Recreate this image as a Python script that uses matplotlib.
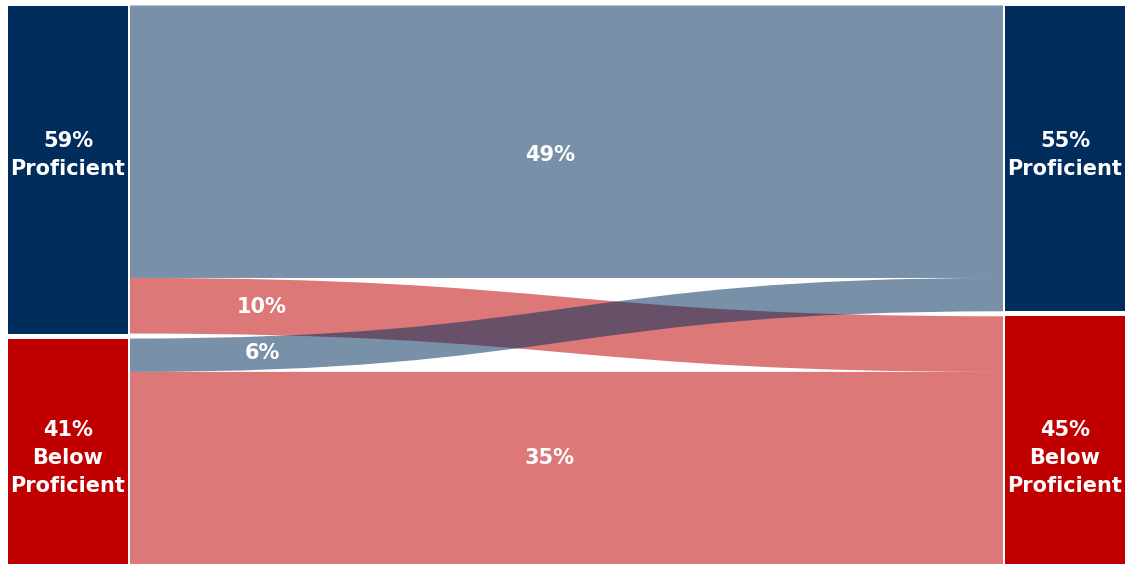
import numpy as np
import matplotlib
matplotlib.use("Agg")
import matplotlib.pyplot as plt
from matplotlib.path import Path
from matplotlib.patches import PathPatch, Rectangle

# Node groups (share of students) in the earlier and later year
left_values = [59, 41]
left_labels = ["59%\nProficient", "41%\nBelow\nProficient"]
right_values = [55, 45]
right_labels = ["55%\nProficient", "45%\nBelow\nProficient"]

# Flows between groups: source index, target index, share
flow_source = [0, 0, 1, 1]
flow_target = [0, 1, 0, 1]
flow_values = [49, 10, 6, 35]
flow_labels = ["49%", "10%", "6%", "35%"]

node_colors = ["#002D5C", "#C00000"]
FLOW_ALPHA = 0.53

# Layout in pixel units
W, H = 1128, 564
TOP, GAP, SCALE = 5.5, 5.0, 5.56
NODE_W = 120
LEFT_X, RIGHT_X = 8, 1005
FLOW_X0, FLOW_X1 = LEFT_X + NODE_W + 2, RIGHT_X - 2

fig = plt.figure(figsize=(W / 100, H / 100), dpi=100)
ax = fig.add_axes([0, 0, 1, 1])
ax.set_xlim(0, W)
ax.set_ylim(H, 0)
ax.axis("off")


def node_spans(values):
    spans, y = [], TOP
    for v in values:
        spans.append((y, y + v * SCALE))
        y += v * SCALE + GAP
    return spans


left_spans = node_spans(left_values)
right_spans = node_spans(right_values)

# Stack flows inside each node: ordering follows the flow list
left_cursor = [s[0] for s in left_spans]
right_cursor = [s[0] for s in right_spans]
flow_geo = []
for s, t, v in zip(flow_source, flow_target, flow_values):
    h = v * SCALE
    ya = left_cursor[s]
    yb = right_cursor[t]
    left_cursor[s] += h
    right_cursor[t] += h
    flow_geo.append((ya, yb, h))


def band_path(ya, yb, h):
    xm = (FLOW_X0 + FLOW_X1) / 2
    verts = [
        (FLOW_X0, ya),
        (xm, ya), (xm, yb), (FLOW_X1, yb),
        (FLOW_X1, yb + h),
        (xm, yb + h), (xm, ya + h), (FLOW_X0, ya + h),
        (FLOW_X0, ya),
    ]
    codes = [Path.MOVETO,
             Path.CURVE4, Path.CURVE4, Path.CURVE4,
             Path.LINETO,
             Path.CURVE4, Path.CURVE4, Path.CURVE4,
             Path.CLOSEPOLY]
    return Path(verts, codes)


def band_center_at(x, ya, yb, h):
    xm = (FLOW_X0 + FLOW_X1) / 2
    t = np.linspace(0, 1, 2001)
    bx = ((1 - t) ** 3 * FLOW_X0 + 3 * (1 - t) ** 2 * t * xm
          + 3 * (1 - t) * t ** 2 * xm + t ** 3 * FLOW_X1)
    by = ((1 - t) ** 3 * ya + 3 * (1 - t) ** 2 * t * ya
          + 3 * (1 - t) * t ** 2 * yb + t ** 3 * yb)
    return np.interp(x, bx, by) + h / 2


# Flows take the colour of the group they end in; red ones are drawn
# first so the blue ones sit on top where they cross
order = sorted(range(len(flow_values)), key=lambda i: -flow_target[i])
for i in order:
    ya, yb, h = flow_geo[i]
    ax.add_patch(PathPatch(band_path(ya, yb, h),
                           facecolor=node_colors[flow_target[i]],
                           alpha=FLOW_ALPHA, edgecolor="none", lw=0))

# Nodes
for (y0, y1), c in zip(left_spans, node_colors):
    ax.add_patch(Rectangle((LEFT_X, y0), NODE_W, y1 - y0,
                           facecolor=c, edgecolor="none"))
for (y0, y1), c in zip(right_spans, node_colors):
    ax.add_patch(Rectangle((RIGHT_X, y0), NODE_W, y1 - y0,
                           facecolor=c, edgecolor="none"))

txt = dict(color="white", fontweight="bold", fontsize=15,
           family="DejaVu Sans", ha="center", va="center", linespacing=1.5)

ROW_Y = [155, 458]
for lbl, y in zip(left_labels, ROW_Y):
    ax.text(LEFT_X + NODE_W / 2, y, lbl, **txt)
for lbl, y in zip(right_labels, ROW_Y):
    ax.text(RIGHT_X + NODE_W / 2, y, lbl, **txt)

# Flow labels: straight flows in the middle, crossing flows near the left
MID_X, SIDE_X = 550, 262
for i, lbl in enumerate(flow_labels):
    ya, yb, h = flow_geo[i]
    if flow_source[i] == flow_target[i]:
        ax.text(MID_X, ROW_Y[flow_source[i]], lbl, **txt)
    else:
        ax.text(SIDE_X, band_center_at(SIDE_X, ya, yb, h), lbl, **txt)

fig.savefig("out.png", dpi=100, facecolor="white")
